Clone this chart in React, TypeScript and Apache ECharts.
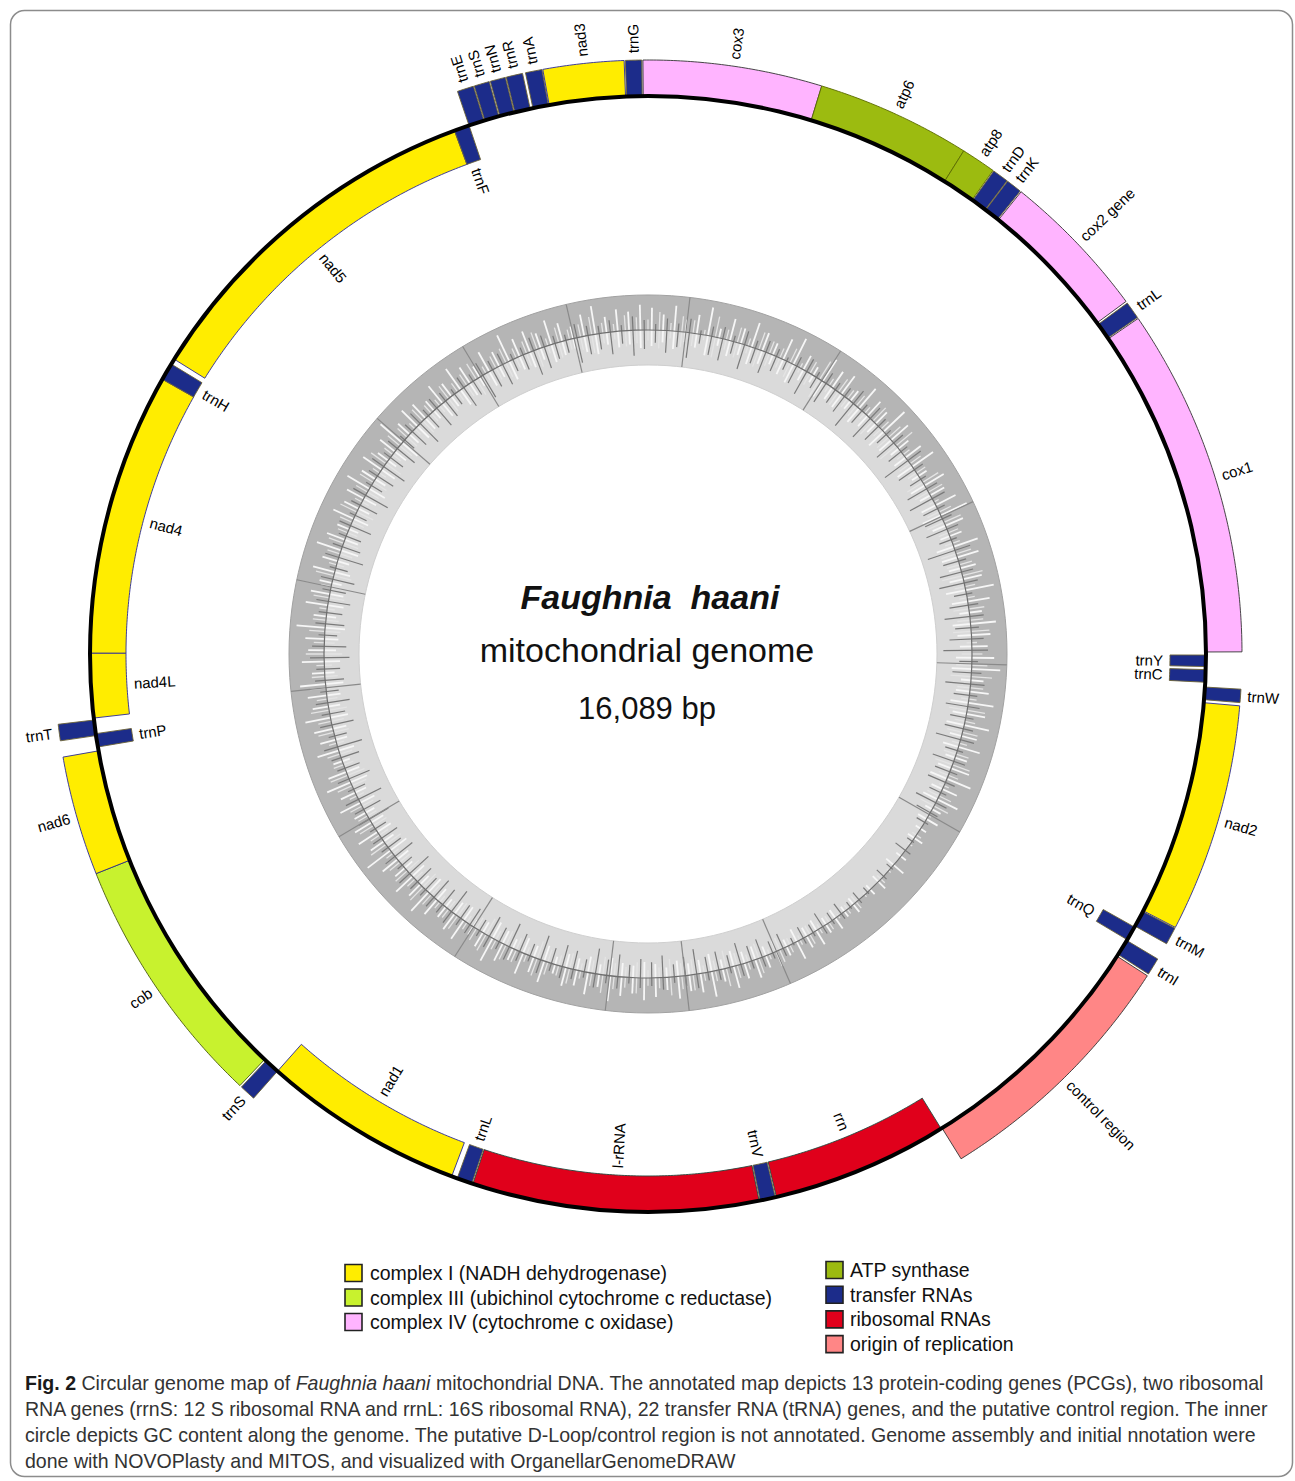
import React, { useEffect, useRef } from 'react';
import * as echarts from 'echarts';

const GENOME_LENGTH = 16089;

// Genes, clockwise from the top of the map (bp)
const geneNames = [
  'trnE', 'trnS', 'trnN', 'trnR', 'trnA', 'nad3', 'trnG', 'cox3', 'atp6', 'atp8',
  'trnD', 'trnK', 'cox2 gene', 'trnL', 'cox1', 'trnY', 'trnC', 'trnW', 'nad2', 'trnM',
  'trnQ', 'trnI', 'control region', 'rrn', 'trnV', 'l-rRNA', 'trnL', 'nad1', 'trnS', 'cob',
  'nad6', 'trnP', 'trnT', 'nad4L', 'nad4', 'trnH', 'nad5', 'trnF',
];
const geneStarts = [
  15253, 15329, 15401, 15472, 15557, 15633, 15991, 16067, 760, 1435,
  1591, 1665, 1739, 2404, 2485, 4027, 4094, 4174, 4246, 5251,
  5332, 5403, 5488, 6628, 7455, 7531, 8867, 8965, 9904, 9984,
  11097, 11638, 11691, 11772, 12071, 13385, 13492, 15182,
];
const geneEnds = [
  15325, 15396, 15468, 15544, 15629, 15986, 16062, 760, 1435, 1587,
  1662, 1734, 2395, 2480, 4013, 4080, 4152, 4232, 5247, 5327,
  5399, 5479, 6623, 7450, 7526, 8862, 8938, 9904, 9975, 11097,
  11620, 11700, 11763, 12071, 13385, 13466, 15182, 15253,
];
// 1 = drawn outside the circle, -1 = inside
const geneStrands = [
  1, 1, 1, 1, 1, 1, 1, 1, 1, 1,
  1, 1, 1, 1, 1, -1, -1, 1, 1, 1,
  -1, 1, 1, -1, -1, -1, -1, -1, 1, 1,
  1, -1, 1, -1, -1, -1, -1, -1,
];
const geneTypes = [
  'trn', 'trn', 'trn', 'trn', 'trn', 'nad', 'trn', 'cox', 'atp', 'atp',
  'trn', 'trn', 'cox', 'trn', 'cox', 'trn', 'trn', 'trn', 'nad', 'trn',
  'trn', 'trn', 'ori', 'rrn', 'trn', 'rrn', 'trn', 'nad', 'trn', 'cob',
  'nad', 'trn', 'trn', 'nad', 'nad', 'trn', 'nad', 'trn',
];

// GC content texture: one level (0-9) per 2-degree window
const gcLight = [
  6, 4, 7, 3, 5, 8, 2, 6, 4, 7, 5, 3, 6, 8, 4, 2, 7, 5, 6, 3,
  7, 5, 4, 8, 6, 3, 5, 7, 2, 6, 4, 6, 8, 5, 3, 7, 6, 4, 5, 8,
  6, 3, 7, 5, 4, 6, 8, 3, 5, 7, 5, 7, 4, 6, 3, 5, 7, 4, 6, 2,
  3, 1, 2, 0, 1, 3, 0, 2, 1, 0, 2, 1, 3, 2, 4, 3, 5, 2, 4, 3,
  5, 4, 6, 3, 7, 5, 4, 6, 3, 5, 6, 4, 5, 7, 3, 6, 4, 5, 2, 6,
  4, 6, 3, 5, 7, 4, 2, 6, 5, 3, 5, 7, 4, 6, 3, 5, 8, 4, 6, 5,
  3, 6, 4, 7, 5, 2, 6, 4, 5, 7, 4, 5, 7, 3, 6, 4, 5, 8, 3, 6,
  5, 3, 6, 4, 7, 5, 3, 6, 4, 5, 7, 4, 6, 3, 5, 8, 4, 6, 5, 3,
  6, 4, 7, 5, 3, 6, 4, 8, 5, 6, 4, 7, 5, 3, 6, 8, 4, 6, 5, 7,
];
const gcDark = [
  3, 6, 4, 7, 2, 5, 6, 3, 7, 4, 6, 4, 2, 5, 7, 3, 6, 4, 5, 8,
  4, 7, 5, 3, 6, 4, 8, 5, 3, 6, 7, 4, 5, 6, 3, 8, 4, 6, 7, 3,
  5, 7, 4, 6, 8, 3, 5, 7, 4, 6, 4, 5, 7, 3, 6, 4, 5, 3, 6, 4,
  2, 0, 1, 3, 0, 1, 2, 0, 1, 2, 1, 3, 2, 4, 2, 3, 1, 4, 3, 5,
  4, 6, 3, 5, 4, 7, 5, 3, 6, 4, 5, 3, 6, 4, 7, 3, 5, 6, 4, 7,
  3, 5, 7, 4, 6, 3, 5, 4, 7, 5, 6, 4, 5, 7, 3, 6, 4, 5, 3, 6,
  5, 7, 3, 6, 4, 5, 7, 3, 6, 4, 6, 3, 5, 4, 7, 6, 3, 5, 4, 6,
  4, 6, 3, 7, 5, 4, 6, 3, 5, 7, 3, 5, 7, 4, 6, 3, 5, 7, 4, 6,
  5, 3, 6, 4, 7, 5, 6, 3, 4, 7, 6, 4, 3, 7, 5, 4, 6, 3, 7, 5,
];
const gcPale = [
  4, 7, 3, 6, 5, 2, 8, 4, 6, 3, 7, 5, 4, 6, 2, 5, 8, 3, 6, 4,
  5, 3, 7, 4, 6, 8, 3, 5, 4, 7, 6, 2, 5, 7, 4, 3, 6, 5, 8, 4,
  3, 6, 5, 7, 2, 4, 6, 8, 5, 3, 7, 4, 6, 3, 5, 7, 4, 2, 5, 6,
  1, 0, 2, 1, 0, 0, 1, 2, 0, 1, 3, 2, 1, 3, 2, 4, 2, 3, 5, 2,
  6, 3, 5, 7, 4, 3, 6, 5, 7, 4, 3, 6, 4, 5, 7, 5, 3, 6, 4, 5,
  7, 3, 5, 6, 4, 7, 5, 3, 6, 4, 3, 5, 7, 4, 6, 5, 3, 7, 4, 6,
  4, 5, 3, 6, 7, 4, 5, 3, 6, 5, 7, 4, 6, 5, 3, 7, 4, 6, 5, 3,
  6, 4, 7, 3, 5, 6, 4, 5, 7, 3, 5, 6, 3, 7, 4, 6, 5, 3, 6, 4,
  3, 6, 4, 5, 7, 3, 5, 6, 4, 5, 7, 3, 6, 4, 5, 7, 4, 3, 6, 5,
];
// positions (bp) of full-height dark marks in the GC ring
const gcLongMarks = [300, 1450, 2900, 4100, 5350, 7000, 7750, 8350, 9500, 10700, 11800, 12600, 13900, 14700, 15500];

const legendLeftLabels = [
  'complex I (NADH dehydrogenase)',
  'complex III (ubichinol cytochrome c reductase)',
  'complex IV (cytochrome c oxidase)',
];
const legendLeftTypes = ['nad', 'cob', 'cox'];
const legendRightLabels = ['ATP synthase', 'transfer RNAs', 'ribosomal RNAs', 'origin of replication'];
const legendRightTypes = ['atp', 'trn', 'rrn', 'ori'];

const captionLines = [
  '{b|Fig. 2} Circular genome map of {i|Faughnia haani} mitochondrial DNA. The annotated map depicts 13 protein-coding genes (PCGs), two ribosomal',
  'RNA genes (rrnS: 12 S ribosomal RNA and rrnL: 16S ribosomal RNA), 22 transfer RNA (tRNA) genes, and the putative control region. The inner',
  'circle depicts GC content along the genome. The putative D-Loop/control region is not annotated. Genome assembly and initial nnotation were',
  'done with NOVOPlasty and MITOS, and visualized with OrganellarGenomeDRAW',
];

const typeFill: Record<string, string> = {
  nad: '#FFED00',
  cob: '#C8F22E',
  cox: '#FFB4FF',
  atp: '#9CBB10',
  trn: '#1C2C8A',
  rrn: '#E0001B',
  ori: '#FF8686',
};
const typeStroke: Record<string, string> = {
  nad: '#2a2a9a',
  cob: '#4a5a10',
  cox: '#333333',
  atp: '#5a6a00',
  trn: '#6b6235',
  rrn: '#244a40',
  ori: '#333333',
};

const LABEL_FONT = '"Liberation Sans", Arial, sans-serif';
const R_CIRCLE = 558;
const R_OUT = 594;
const R_IN = 522;
const GC_IN = 289;
const GC_MID = 324;
const GC_OUT = 359;

export default function App() {
  const ref = useRef<HTMLDivElement>(null);

  useEffect(() => {
    document.body.style.margin = '0';
    const chart = echarts.init(ref.current!, undefined, { renderer: 'svg' });

    const geneData = geneStarts.map((s, i) => [s, geneEnds[i] < s ? geneEnds[i] + GENOME_LENGTH : geneEnds[i]]);
    const win = GENOME_LENGTH / gcLight.length;
    const tickData: number[][] = [];
    gcPale.forEach((v, i) => tickData.push([i * win, v, 3]));
    gcLight.forEach((v, i) => tickData.push([i * win + win * 0.33, v, 0]));
    gcDark.forEach((v, i) => tickData.push([i * win + win * 0.67, v, 1]));
    gcLongMarks.forEach((p) => tickData.push([p, 9, 2]));

    const pixR = (api: any, r: number) => {
      const c = api.coord([0, 0]);
      const p = api.coord([r, 0]);
      return { cx: c[0], cy: c[1], r: Math.hypot(p[0] - c[0], p[1] - c[1]) };
    };

    // caption horizontal fit
    const CAP_FONT = '"Liberation Sans Narrow", "Liberation Sans", Arial, sans-serif';
    const CAP_SIZE = 20;
    let capScale = 1;
    try {
      const ctx = document.createElement('canvas').getContext('2d')!;
      ctx.font = `${CAP_SIZE}px ${CAP_FONT}`;
      const plain = captionLines[0].replace(/\{[bi]\|([^}]*)\}/g, '$1');
      const w = ctx.measureText(plain).width;
      if (w > 0) capScale = 1237 / w;
    } catch (e) {
      capScale = 1;
    }

    const legendGraphics: any[] = [];
    legendLeftLabels.forEach((lab, i) => {
      const y = 1273 + i * 24.5;
      legendGraphics.push({
        type: 'rect', shape: { x: 345, y: y - 8.5, width: 17, height: 17 },
        style: { fill: typeFill[legendLeftTypes[i]], stroke: '#222', lineWidth: 1.6 },
      });
      legendGraphics.push({
        type: 'text', x: 370, y,
        style: { text: lab, fill: '#111', font: `19.5px ${LABEL_FONT}`, align: 'left', verticalAlign: 'middle' },
      });
    });
    legendRightLabels.forEach((lab, i) => {
      const y = 1270 + i * 24.7;
      legendGraphics.push({
        type: 'rect', shape: { x: 826, y: y - 8.5, width: 17, height: 17 },
        style: { fill: typeFill[legendRightTypes[i]], stroke: '#222', lineWidth: 1.6 },
      });
      legendGraphics.push({
        type: 'text', x: 850, y,
        style: { text: lab, fill: '#111', font: `19.5px ${LABEL_FONT}`, align: 'left', verticalAlign: 'middle' },
      });
    });

    const captionGraphics = captionLines.map((line, i) => ({
      type: 'text',
      x: 25,
      y: 1383 + i * 26,
      scaleX: capScale,
      style: {
        text: line,
        fill: '#333',
        fontSize: CAP_SIZE,
        fontFamily: CAP_FONT,
        align: 'left',
        verticalAlign: 'middle',
        rich: {
          b: { fontWeight: 'bold', fontSize: CAP_SIZE, fontFamily: CAP_FONT, fill: '#1a1a1a' },
          i: { fontStyle: 'italic', fontSize: CAP_SIZE, fontFamily: CAP_FONT, fill: '#333' },
        },
      },
    }));

    const option: any = {
      animation: false,
      backgroundColor: '#ffffff',
      polar: { center: [648, 654], radius: 600 },
      angleAxis: {
        type: 'value', min: 0, max: GENOME_LENGTH, startAngle: 90, clockwise: true, show: false,
      },
      radiusAxis: { type: 'value', min: 0, max: 600, show: false },
      series: [
        {
          type: 'custom',
          name: 'gcRing',
          coordinateSystem: 'polar',
          z: 1,
          silent: true,
          data: [[0, 0]],
          renderItem: (params: any, api: any) => {
            const o = pixR(api, GC_OUT);
            const m = pixR(api, GC_MID);
            const n = pixR(api, GC_IN);
            return {
              type: 'group',
              children: [
                { type: 'ring', shape: { cx: o.cx, cy: o.cy, r: o.r, r0: m.r }, style: { fill: '#b5b5b5' } },
                { type: 'ring', shape: { cx: o.cx, cy: o.cy, r: m.r, r0: n.r }, style: { fill: '#dadada' } },
                { type: 'circle', shape: { cx: o.cx, cy: o.cy, r: o.r }, style: { fill: 'none', stroke: '#a2a2a2', lineWidth: 1 } },
                { type: 'circle', shape: { cx: o.cx, cy: o.cy, r: n.r }, style: { fill: 'none', stroke: '#cfcfcf', lineWidth: 1 } },
              ],
            };
          },
        },
        {
          type: 'custom',
          name: 'gcTicks',
          coordinateSystem: 'polar',
          z: 2,
          silent: true,
          data: tickData,
          renderItem: (params: any, api: any) => {
            const pos = api.value(0);
            const v = api.value(1);
            const kind = api.value(2);
            if (!v) return null;
            let a: number, b: number, color: string, w: number;
            if (kind === 0) {
              a = GC_MID - 4 - v * 2; b = GC_MID + 3 + v * 3.2; color = '#f6f6f6'; w = 1.8;
            } else if (kind === 1) {
              a = GC_MID - 3 - v * 3.2; b = GC_MID + v * 2; color = '#7a7a7a'; w = 1.2;
            } else if (kind === 3) {
              a = GC_MID - v * 2.6; b = GC_MID + v * 2.6; color = '#e4e4e4'; w = 1.3;
            } else {
              a = GC_IN; b = GC_OUT; color = '#8a8a8a'; w = 1.2;
            }
            const p1 = api.coord([a, pos]);
            const p2 = api.coord([b, pos]);
            return {
              type: 'line',
              shape: { x1: p1[0], y1: p1[1], x2: p2[0], y2: p2[1] },
              style: { stroke: color, lineWidth: w },
            };
          },
        },
        {
          type: 'custom',
          name: 'gcMid',
          coordinateSystem: 'polar',
          z: 3,
          silent: true,
          data: [[0, 0]],
          renderItem: (params: any, api: any) => {
            const m = pixR(api, GC_MID);
            return { type: 'circle', shape: { cx: m.cx, cy: m.cy, r: m.r }, style: { fill: 'none', stroke: '#6e6e6e', lineWidth: 1.2 } };
          },
        },
        {
          type: 'custom',
          name: 'genes',
          coordinateSystem: 'polar',
          z: 4,
          silent: true,
          data: geneData,
          renderItem: (params: any, api: any) => {
            const i = params.dataIndex;
            const s = api.value(0);
            const e = api.value(1);
            const outer = geneStrands[i] > 0;
            const r0 = outer ? R_CIRCLE : R_IN;
            const r1 = outer ? R_OUT : R_CIRCLE;
            const n = Math.max(2, Math.ceil((e - s) / 15));
            const pts: number[][] = [];
            for (let k = 0; k <= n; k++) pts.push(api.coord([r1, s + ((e - s) * k) / n]));
            for (let k = n; k >= 0; k--) pts.push(api.coord([r0, s + ((e - s) * k) / n]));
            const t = geneTypes[i];
            const mid = (s + e) / 2;
            const rl = outer ? 601 : 515;
            const p = api.coord([rl, mid]);
            const c = api.coord([0, mid]);
            const dx = p[0] - c[0];
            const dy = p[1] - c[1];
            const theta = ((Math.atan2(dx, -dy) * 180) / Math.PI + 360) % 360;
            let rot: number;
            let align = 'left';
            if (outer) {
              rot = -Math.atan2(dy, dx);
              if (theta > 180 && theta < 300) { rot += Math.PI; align = 'right'; }
            } else {
              rot = -Math.atan2(-dy, -dx);
              if (theta > 0 && theta < 180) { rot += Math.PI; align = 'right'; }
            }
            return {
              type: 'group',
              children: [
                {
                  type: 'polygon',
                  shape: { points: pts },
                  style: { fill: typeFill[t], stroke: typeStroke[t], lineWidth: 0.9 },
                },
                {
                  type: 'text',
                  x: p[0],
                  y: p[1],
                  rotation: rot,
                  style: {
                    text: geneNames[i],
                    fill: '#000',
                    fontSize: 15,
                    fontFamily: LABEL_FONT,
                    align,
                    verticalAlign: 'middle',
                  },
                },
              ],
            };
          },
        },
        {
          type: 'custom',
          name: 'backbone',
          coordinateSystem: 'polar',
          z: 5,
          silent: true,
          data: [[0, 0]],
          renderItem: (params: any, api: any) => {
            const m = pixR(api, R_CIRCLE);
            return { type: 'circle', shape: { cx: m.cx, cy: m.cy, r: m.r }, style: { fill: 'none', stroke: '#000', lineWidth: 4 } };
          },
        },
      ],
      graphic: [
        {
          type: 'rect',
          shape: { x: 10.5, y: 10.5, width: 1282, height: 1466, r: 14 },
          style: { fill: 'none', stroke: '#8c8c8c', lineWidth: 1.5 },
          silent: true,
        },
        {
          type: 'text', x: 650, y: 597,
          style: { text: 'Faughnia  haani', fill: '#111', font: `italic bold 34px ${LABEL_FONT}`, align: 'center', verticalAlign: 'middle' },
        },
        {
          type: 'text', x: 647, y: 650,
          style: { text: 'mitochondrial genome', fill: '#111', font: `34px ${LABEL_FONT}`, align: 'center', verticalAlign: 'middle' },
        },
        {
          type: 'text', x: 647, y: 708,
          style: { text: '16,089 bp', fill: '#111', font: `31px ${LABEL_FONT}`, align: 'center', verticalAlign: 'middle' },
        },
        ...legendGraphics,
        ...captionGraphics,
      ],
    };

    chart.setOption(option);
    return () => chart.dispose();
  }, []);

  return <div ref={ref} style={{ width: 1295, height: 1481 }} />;
}
